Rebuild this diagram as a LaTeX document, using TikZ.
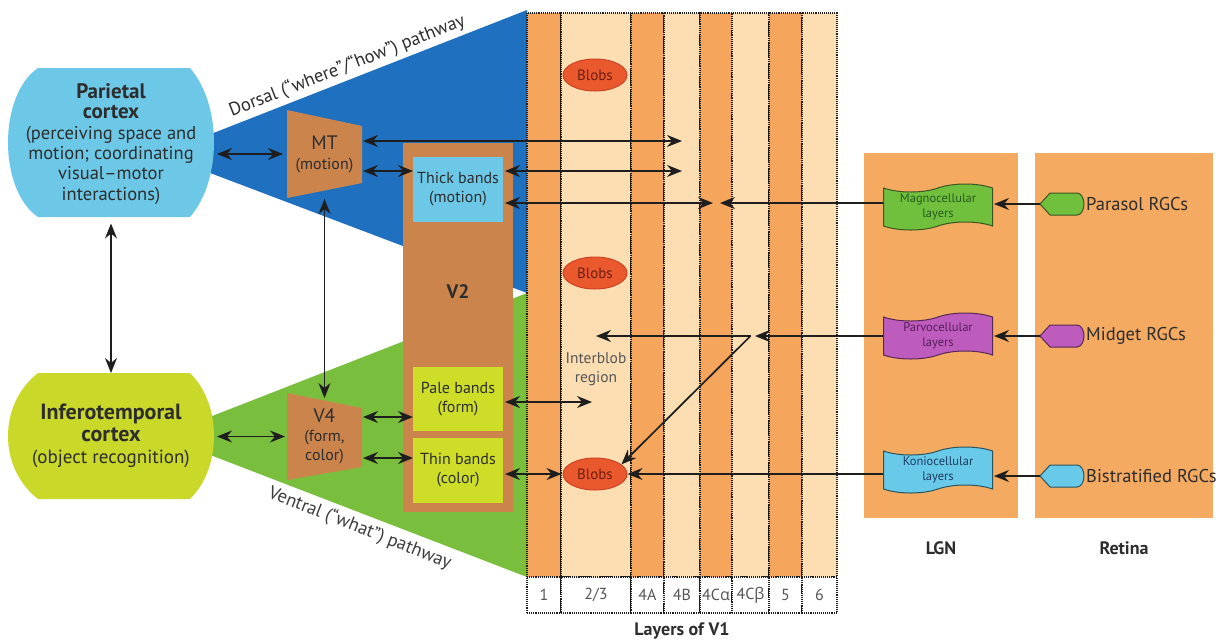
\documentclass[tikz,border=0pt]{standalone}
\usepackage{fontspec}
\setmainfont{PT Sans}
\newfontfamily\grk{Open Sans}
\usetikzlibrary{shapes.geometric,shapes.symbols,arrows.meta,calc}
\definecolor{dorsalc}{RGB}{32,112,192}
\definecolor{ventralc}{RGB}{122,190,62}
\definecolor{parc}{RGB}{108,200,230}
\definecolor{infc}{RGB}{202,216,42}
\definecolor{brownc}{RGB}{203,133,76}
\definecolor{bandyc}{RGB}{206,222,40}
\definecolor{stripd}{RGB}{245,166,92}
\definecolor{stripl}{RGB}{252,222,178}
\definecolor{lgnc}{RGB}{245,170,98}
\definecolor{blobc}{RGB}{234,88,46}
\definecolor{blobedge}{RGB}{205,68,36}
\definecolor{blobtext}{RGB}{110,30,15}
\definecolor{linec}{RGB}{30,30,30}
\definecolor{txtc}{RGB}{45,45,45}
\definecolor{greytxt}{RGB}{85,85,85}
\definecolor{magnoc}{RGB}{112,192,62}
\definecolor{parvoc}{RGB}{190,92,190}
\definecolor{konioc}{RGB}{104,202,232}
\tikzset{ahd/.tip={Stealth[length=15pt,width=12pt,inset=5pt]}}
\begin{document}
\begin{tikzpicture}[x=1pt,y=1pt,
  box/.style={rectangle,inner sep=0pt,outer sep=0pt,align=center,text=txtc},
  col/.style={rectangle,inner sep=0pt,outer sep=0pt,minimum height=564pt,draw=linec,densely dotted,line width=1.1pt},
  labcol/.style={rectangle,inner sep=0pt,outer sep=0pt,minimum height=36pt,draw=linec,densely dotted,line width=1.1pt,fill=white,text=greytxt,font=\fontsize{16}{18}\selectfont},
  blob/.style={ellipse,fill=blobc,draw=blobedge,line width=1pt,minimum width=64pt,minimum height=32pt,inner sep=0pt,text=blobtext,font=\fontsize{15}{17}\selectfont},
  lgnshape/.style={tape,tape bend top=in and out,tape bend bottom=in and out,tape bend height=8pt,minimum width=109pt,minimum height=46pt,inner sep=0pt,align=center,line width=1pt,font=\fontsize{12.5}{15}\selectfont},
  rgcname/.style={anchor=west,inner sep=0pt,text=txtc,font=\fontsize{18.5}{21}\selectfont},
  arr/.style={draw=linec,line width=1.7pt,-{ahd}},
  dbl/.style={draw=linec,line width=1.7pt,{ahd}-{ahd}},
  pathlab/.style={anchor=base,inner sep=0pt,text=txtc,font=\fontsize{18.5}{21}\selectfont}
]
\useasboundingbox (0,0) rectangle (1220,-641);
% pathway triangles
\path[fill=dorsalc] (160,-154) -- (527,-10) -- (527,-293) -- cycle;
\path[fill=ventralc] (161,-436) -- (527,-293) -- (527,-577) -- cycle;
% V1 columns
\node[col,fill=stripd,minimum width=34pt] (l1) at (544,-295) {};
\node[col,fill=stripl,minimum width=70pt] (l23) at (596,-295) {};
\node[col,fill=stripd,minimum width=33pt] (l4A) at (647.5,-295) {};
\node[col,fill=stripl,minimum width=36pt] (l4B) at (682,-295) {};
\node[col,fill=stripd,minimum width=32pt] (l4Ca) at (716,-295) {};
\node[col,fill=stripl,minimum width=37pt] (l4Cb) at (750.5,-295) {};
\node[col,fill=stripd,minimum width=33pt] (l5) at (785.5,-295) {};
\node[col,fill=stripl,minimum width=35pt] (l6) at (819.5,-295) {};
\node[labcol,minimum width=34pt] (t1) at (544,-595) {1};
\node[labcol,minimum width=70pt] (t23) at (596,-595) {2/3};
\node[labcol,minimum width=33pt] (t4A) at (647.5,-595) {4A};
\node[labcol,minimum width=36pt] (t4B) at (682,-595) {4B};
\node[labcol,minimum width=32pt] (t4Ca) at (716,-595) {4C{\grk α}};
\node[labcol,minimum width=37pt] (t4Cb) at (750.5,-595) {4C{\grk β}};
\node[labcol,minimum width=33pt] (t5) at (785.5,-595) {5};
\node[labcol,minimum width=35pt] (t6) at (819.5,-595) {6};
\node[box,font=\bfseries\fontsize{18}{20}\selectfont] (v1lab) at (682,-631) {Layers of V1};
% cortex shapes
\path[fill=parc] (38,-68) -- (190,-68) .. controls (222,-105) and (222,-180) .. (190,-217) -- (38,-217) .. controls (-2,-190) and (-2,-95) .. (38,-68) -- cycle;
\path[fill=infc] (38,-373) -- (190,-373) .. controls (222,-404) and (222,-468) .. (190,-499) -- (38,-499) .. controls (-2,-468) and (-2,-404) .. (38,-373) -- cycle;
\node[box,minimum width=206pt,minimum height=149pt,font=\fontsize{18.5}{20.3}\selectfont] (par) at (111,-144)
  {{\bfseries\fontsize{21}{20.3}\selectfont Parietal}\\{\bfseries\fontsize{21}{20.3}\selectfont cortex}\\(perceiving space and\\motion; coordinating\\visual–motor\\interactions)};
\node[box,minimum width=206pt,minimum height=126pt,font=\fontsize{19}{22}\selectfont] (inf) at (111,-436)
  {{\bfseries\fontsize{22}{22}\selectfont Inferotemporal}\\{\bfseries\fontsize{22}{22}\selectfont cortex}\\(object recognition)};
% MT, V4, V2
\path[fill=brownc] (287,-110) -- (362,-126) -- (362,-183) -- (287,-198) -- cycle;
\path[fill=brownc] (287,-393) -- (362,-408) -- (362,-467) -- (287,-480) -- cycle;
\node[box,minimum width=75pt,minimum height=88pt,font=\fontsize{16}{20}\selectfont] (mt) at (324.5,-154)
  {{\fontsize{19.5}{20}\selectfont MT}\\(motion)};
\node[box,minimum width=75pt,minimum height=87pt,font=\fontsize{16}{19}\selectfont] (v4) at (324.5,-436.5)
  {{\fontsize{19.5}{20}\selectfont V4}\\(form,\\color)};
\node[box,fill=brownc,minimum width=110pt,minimum height=369pt] (v2) at (458,-327.5) {};
\node[box,font=\bfseries\fontsize{19.5}{20}\selectfont] (v2lab) at (458,-292) {V2};
\node[box,fill=parc,minimum width=90pt,minimum height=65pt,font=\fontsize{16}{18.5}\selectfont] (thick) at (458,-189) {Thick bands\\(motion)};
\node[box,fill=bandyc,minimum width=90pt,minimum height=64pt,font=\fontsize{16}{19}\selectfont] (pale) at (458,-399) {Pale bands\\(form)};
\node[box,fill=bandyc,minimum width=90pt,minimum height=65pt,font=\fontsize{16}{19}\selectfont] (thin) at (458,-470.5) {Thin bands\\(color)};
% blobs
\node[blob] (b1) at (595,-75) {Blobs};
\node[blob] (b2) at (595,-273) {Blobs};
\node[blob] (b3) at (595,-474) {Blobs};
\node[box,text=greytxt,font=\fontsize{15.5}{19}\selectfont] (ib) at (596,-369) {Interblob\\region};
% LGN and retina
\node[box,fill=lgnc,minimum width=154pt,minimum height=365pt] (lgn) at (941,-335.5) {};
\node[box,fill=lgnc,minimum width=178pt,minimum height=365pt] (ret) at (1124,-335.5) {};
\node[box,font=\bfseries\fontsize{18}{20}\selectfont] (lgnlab) at (941,-548) {LGN};
\node[box,font=\bfseries\fontsize{18}{20}\selectfont] (retlab) at (1124,-548) {Retina};
\node[lgnshape,fill=magnoc,draw={rgb,255:red,60;green,85;blue,35},text={rgb,255:red,40;green,90;blue,30}] (magno) at (938,-207) {Magnocellular\\layers};
\node[lgnshape,fill=parvoc,draw={rgb,255:red,85;green,40;blue,85},text={rgb,255:red,85;green,30;blue,90}] (parvo) at (938,-336) {Parvocellular\\layers};
\node[lgnshape,fill=konioc,draw={rgb,255:red,40;green,85;blue,95},text={rgb,255:red,30;green,60;blue,100}] (konio) at (938,-470) {Koniocellular\\layers};
% RGC shapes
\path[fill=magnoc,draw={rgb,255:red,60;green,85;blue,35},line width=1pt,shift={(1061,-204)}] (-21,0) -- (-11,11) -- (16,11) arc[start angle=90,end angle=-90,x radius=7,y radius=11] -- (-11,-11) -- cycle;
\path[fill=parvoc,draw={rgb,255:red,85;green,40;blue,85},line width=1pt,shift={(1061,-336)}] (-21,0) -- (-11,11) -- (16,11) arc[start angle=90,end angle=-90,x radius=7,y radius=11] -- (-11,-11) -- cycle;
\path[fill=konioc,draw={rgb,255:red,40;green,85;blue,95},line width=1pt,shift={(1061,-476)}] (-21,0) -- (-11,11) -- (16,11) arc[start angle=90,end angle=-90,x radius=7,y radius=11] -- (-11,-11) -- cycle;
\node[box,minimum width=43pt,minimum height=22pt] (parasol) at (1061.5,-204) {};
\node[box,minimum width=43pt,minimum height=22pt] (midget) at (1061.5,-336) {};
\node[box,minimum width=43pt,minimum height=22pt] (bistr) at (1061.5,-476) {};
\node[rgcname] (parasollab) at (1086,-204) {Parasol RGCs};
\node[rgcname] (midgetlab) at (1086,-336) {Midget RGCs};
\node[rgcname] (bistrlab) at (1086,-476) {Bistratified RGCs};
% pathway labels
\node[pathlab,rotate=21.3] (dorsal) at (349,-71) {Dorsal (“where”/“how”) pathway};
\node[pathlab,rotate=-21.5,text={rgb,255:red,60;green,60;blue,60}] (ventral) at (358,-533) {Ventral (“what”) pathway};
% row coordinates
\coordinate (r141) at (0,-141);
\coordinate (r171) at (0,-171);
\coordinate (r203) at (0,-203);
\coordinate (r336) at (0,-336);
\coordinate (r402) at (0,-402);
\coordinate (r417) at (0,-417);
\coordinate (r458) at (0,-458);
% connectors
\draw[dbl,shorten <=3pt,shorten >=4pt] (par.east |- mt.west) -- (mt.west);
\draw[dbl,shorten <=5pt] (par.south) -- (inf.north);
\draw[dbl,shorten <=3pt,shorten >=2pt] (inf.east |- v4.west) -- (v4.west);
\draw[dbl,shorten <=1pt,shorten >=-5pt] (mt.south) -- (v4.north);
\draw[dbl,shorten <=1pt] (mt.east |- r141) -- (l4B.center |- r141);
\draw[dbl,shorten <=1pt] (mt.east |- r171) -- (thick.west |- r171);
\draw[dbl,shorten <=2pt] (thick.east |- r171) -- (l4B.center |- r171);
\draw[dbl,shorten <=2pt,shorten >=3pt] (thick.east |- r203) -- (l4Ca.center |- r203);
\draw[arr,shorten >=4pt] (magno.west |- r203) -- (l4Ca.center |- r203);
\draw[dbl,shorten <=1pt] (v4.east |- r417) -- (pale.west |- r417);
\draw[dbl,shorten <=1pt] (v4.east |- r458) -- (thin.west |- r458);
\draw[dbl,shorten <=2pt,shorten >=4pt] (pale.east |- r402) -- (ib.center |- r402);
\draw[dbl,shorten <=2pt,shorten >=1pt] (thin.east |- b3.west) -- (b3.west);
\draw[arr] (konio.west |- b3.east) -- (b3.east);
\draw[arr,shorten >=4.5pt] (parvo.west |- r336) -- (l4Cb.center |- r336);
\draw[arr] (l4Cb.center |- r336) -- (ib.center |- r336);
\draw[arr] (l4Cb.center |- r336) -- (b3.20);
\draw[arr,shorten >=1pt] (parasol.west) -- (magno.east |- parasol.west);
\draw[arr,shorten >=1pt] (midget.west) -- (parvo.east |- midget.west);
\draw[arr,shorten >=1pt] (bistr.west) -- (konio.east |- bistr.west);
\end{tikzpicture}
\end{document}
